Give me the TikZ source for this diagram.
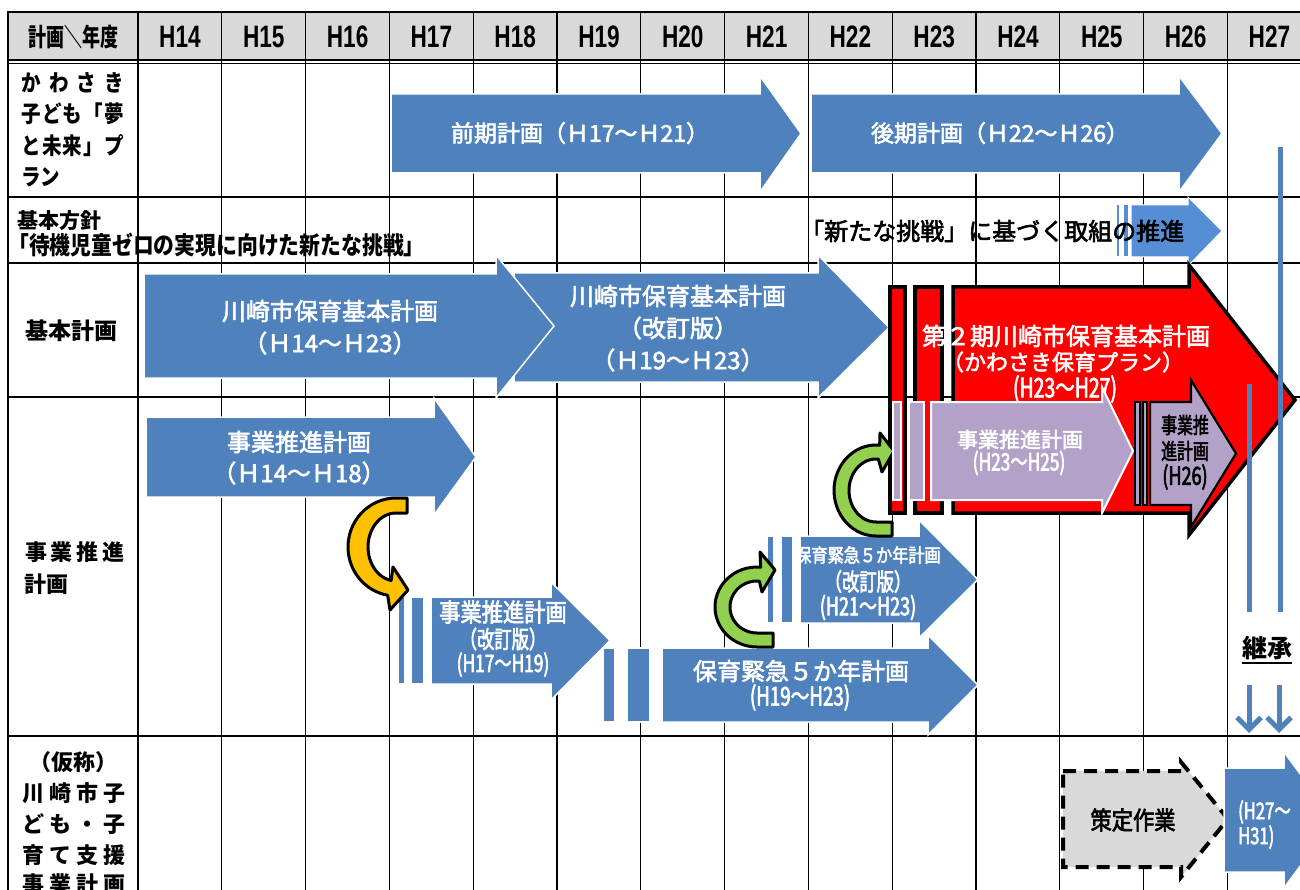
\documentclass[tikz,border=0pt]{standalone}
\usepackage{fontspec}
\usetikzlibrary{arrows.meta}
\setmainfont{Noto Sans CJK JP}
\newfontfamily\jpA{Noto Sans CJK JP}[UprightFeatures={FakeBold=2.5}]
\newfontfamily\jpB{Noto Sans CJK JP}[FakeStretch=0.85,UprightFeatures={FakeBold=2.5}]
\newfontfamily\jpC{Noto Sans CJK JP}[FakeStretch=0.72,UprightFeatures={FakeBold=2.5}]
\newfontfamily\hdr{Liberation Sans}[FakeStretch=0.73]
\newcommand{\fsz}[1]{\fontsize{#1pt}{#1pt}\selectfont}
\definecolor{blueA}{HTML}{4F81BD}
\definecolor{blueL}{HTML}{558ED5}
\definecolor{purp}{HTML}{B3A2C7}
\definecolor{grA}{HTML}{92D050}
\definecolor{orA}{HTML}{FFC000}
\definecolor{grayH}{HTML}{D9D9D9}
% [style]{x0}{ytop}{ybot}{xhead}{yheadtop}{yheadbot}{xtip}
\newcommand{\blk}[8][]{\path[#1] (#2,#3) -- (#5,#3) -- (#5,#6) -- (#8,{(#3+#4)/2}) -- (#5,#7) -- (#5,#4) -- (#2,#4) -- cycle;}
% [style]{x1}{x2}{ytop}{ybot}
\newcommand{\stripbox}[5][]{\path[#1] (#2,#4) rectangle (#3,#5);}
\begin{document}
\begin{tikzpicture}[x=1pt,y=-1pt,
  gridv/.style={line width=1.3pt,black},
  gridh/.style={line width=2pt,black},
  blu/.style={fill=blueA,draw=white,line width=1.5pt,line join=miter},
  bluL/.style={fill=blueL,draw=white,line width=1pt,line join=miter},
  redA/.style={fill=red,draw=black,line width=3.5pt,line join=miter},
  pur/.style={fill=purp,draw=white,line width=2pt,line join=miter},
  pur2/.style={fill=purp,draw=black,line width=2.2pt,line join=miter},
  dsh/.style={fill=grayH,draw=black,line width=4pt,dash pattern=on 13pt off 8pt,line join=miter},
  curv/.style={draw=black,line width=3pt,line join=round},
  kline/.style={draw=blueA,line width=5pt},
  wt/.style={text=white,inner sep=0pt},
  bt/.style={text=black,inner sep=0pt},
  hd/.style={text=black,inner sep=0pt},
  lbl/.style={text=black,inner sep=0pt,anchor=west}]
\useasboundingbox (0,0) rectangle (1300,890);
\fill[white] (0,0) rectangle (1300,890);
% header background
\fill[grayH] (8,12) rectangle (1300,60);
% grid
\foreach \k in {0,...,13} \draw[gridv] ({138+83.8*\k},12) -- ({138+83.8*\k},890);
\draw[gridh] (8,11) -- (8,890);
\draw[gridh] (8,12) -- (1300,12);
\draw[line width=1.2pt] (8,60) -- (1300,60);
\draw[line width=1.2pt] (8,63.5) -- (1300,63.5);
\foreach \y in {197,263,397,736} \draw[gridh] (8,\y) -- (1300,\y);
% header texts
\node[hd,font=\jpC\bfseries\fsz{25}] (hcorner) at (73,37) {計画＼年度};
\foreach \k/\lab in {0/H14,1/H15,2/H16,3/H17,4/H18,5/H19,6/H20,7/H21,8/H22,9/H23,10/H24,11/H25,12/H26,13/H27}
  \node[hd,font=\hdr\bfseries\fsz{31}] (h\k) at ({180+83.8*\k},37) {\lab};
% row 1 label
\node[lbl,font=\jpB\bfseries\fsz{23}] (l1a) at (21,82.5) {\makebox[103pt][s]{か\hfill わ\hfill さ\hfill き}};
\node[lbl,font=\jpB\bfseries\fsz{23}] (l1b) at (21,114) {\makebox[103pt][s]{子\hfill ど\hfill も\hfill 「\hfill 夢}};
\node[lbl,font=\jpB\bfseries\fsz{23}] (l1c) at (21,146) {\makebox[103pt][s]{と\hfill 未\hfill 来\hfill 」\hfill プ}};
\node[lbl,font=\jpB\bfseries\fsz{23}] (l1d) at (21,177.5) {ラン};
% row 1 arrows
\blk[blu]{391}{94}{173}{760}{76}{192}{801}
\node[wt,font=\jpA\fsz{23}] (a1t) at (580,133) {前期計画（Ｈ17～Ｈ21）};
\blk[blu]{811}{94}{173}{1179}{76}{192}{1222}
\node[wt,font=\jpA\fsz{23}] (a2t) at (1000,133) {後期計画（Ｈ22～Ｈ26）};
% row 2
\node[lbl,font=\jpA\bfseries\fsz{21}] (r2a) at (17,221) {基本方針};
\node[lbl,font=\jpB\bfseries\fsz{24.5}] (r2b) at (8,245) {「待機児童ゼロの実現に向けた新たな挑戦」};
\stripbox[bluL]{1116}{1119}{205}{257}
\stripbox[bluL]{1123}{1128}{205}{257}
\blk[bluL]{1131}{205}{257}{1188}{197}{266}{1222}
\node[lbl,font=\jpA\fsz{24}] (r2c) at (800,231) {「新たな挑戦」に基づく取組の推進};
% row 3
\node[lbl,font=\jpA\bfseries\fsz{23}] (r3l) at (25,331) {基本計画};
\blk[blu]{514}{273}{382}{818}{255}{398}{889}
\blk[blu]{144}{274}{378}{496}{255}{398}{554}
\node[wt,font=\jpA\fsz{24}] (b1a) at (330,311) {川崎市保育基本計画};
\node[wt,font=\jpA\fsz{24}] (b1b) at (330,343) {（Ｈ14～Ｈ23）};
\node[wt,font=\jpA\fsz{24}] (b2a) at (678,296) {川崎市保育基本計画};
\node[wt,font=\jpA\fsz{24}] (b2b) at (678,328) {（改訂版）};
\node[wt,font=\jpA\fsz{24}] (b2c) at (678,360) {（Ｈ19～Ｈ23）};
% red plan
\stripbox[redA]{890}{905}{287}{513}
\stripbox[redA]{915}{942}{287}{513}
\blk[redA]{953}{287}{513}{1189}{265}{535}{1295}
\node[wt,font=\jpA\fsz{24}] (rd1) at (1066,336) {第２期川崎市保育基本計画};
\node[wt,font=\jpA\fsz{22}] (rd2) at (1063,362) {（かわさき保育プラン）};
\node[wt,font=\jpC\fsz{27}] (rd3) at (1065,389) {(H23～H27)};
% row 4 label
\node[lbl,font=\jpA\bfseries\fsz{22}] (r4a) at (25,552) {\makebox[99pt][s]{事\hfill 業\hfill 推\hfill 進}};
\node[lbl,font=\jpA\bfseries\fsz{22}] (r4b) at (24,584) {計画};
% row 4 arrows
\blk[blu]{146}{417}{497}{434}{398}{515}{476}
\node[wt,font=\jpA\fsz{24}] (c1a) at (299,442) {事業推進計画};
\node[wt,font=\jpA\fsz{24}] (c1b) at (299,473) {（Ｈ14～Ｈ18）};
\stripbox[blu]{398}{405}{597}{684}
\stripbox[blu]{411}{424}{597}{684}
\blk[blu]{431}{597}{684}{551}{582}{700}{610}
\node[wt,font=\jpB\fsz{25}] (c2a) at (503,612) {事業推進計画};
\node[wt,font=\jpC\fsz{24}] (c2b) at (503,639) {（改訂版）};
\node[wt,font=\jpC\fsz{24}] (c2c) at (503,664.5) {(H17～H19)};
\stripbox[blu]{603}{615}{648}{722}
\stripbox[blu]{627}{650}{648}{722}
\blk[blu]{662}{648}{722}{928}{635}{735}{978}
\node[wt,font=\jpA\fsz{24}] (c3a) at (801,671) {保育緊急５か年計画};
\node[wt,font=\jpC\fsz{26}] (c3b) at (800,697.5) {(H19～H23)};
\stripbox[blu]{767}{774}{536}{623}
\stripbox[blu]{781}{793}{536}{623}
\blk[blu]{800}{536}{623}{919}{520}{638}{978}
\node[wt,font=\jpB\fsz{19}] (c4a) at (868,555) {保育緊急５か年計画};
\node[wt,font=\jpC\fsz{24}] (c4b) at (868,581.5) {（改訂版）};
\node[wt,font=\jpC\fsz{25}] (c4c) at (868,607.5) {(H21～H23)};
% curved arrows
\path[curv,fill=orA] (407,498) -- (396,498)
  -- plot[domain=270:100,samples=30,variable=\t] ({396+48*cos(\t)},{547+49*sin(\t)})
  -- (390,610) -- (408,590) -- (393,567)
  -- plot[domain=100:270,samples=30,variable=\t] ({396+28*cos(\t)},{547+34*sin(\t)})
  -- (407,513) -- cycle;
\path[curv,fill=grA] (773,633)
  -- plot[domain=90:275,samples=30,variable=\t] ({757+27*cos(\t)},{607+26*sin(\t)})
  -- (762,592) -- (775,570) -- (760,552)
  -- plot[domain=275:90,samples=30,variable=\t] ({757+42*cos(\t)},{607+40*sin(\t)})
  -- (773,647) -- cycle;
\path[curv,fill=grA] (892,522)
  -- plot[domain=90:275,samples=30,variable=\t] ({876+27*cos(\t)},{490.5+31.5*sin(\t)})
  -- (882,472) -- (894,451) -- (880,433)
  -- plot[domain=275:90,samples=30,variable=\t] ({876+42*cos(\t)},{490.5+45.5*sin(\t)})
  -- (892,536) -- cycle;
% purple plans
\stripbox[pur]{893}{901}{402}{500}
\stripbox[pur]{909}{924}{402}{500}
\blk[pur]{931}{402}{500}{1102}{387}{513}{1133}
\node[wt,font=\jpA\fsz{21}] (p1a) at (1020,439.5) {事業推進計画};
\node[wt,font=\jpC\fsz{24}] (p1b) at (1019,463) {(H23～H25)};
\stripbox[pur2]{1135}{1140}{402}{505}
\stripbox[pur2]{1143}{1147}{402}{505}
\blk[pur2]{1150}{402}{505}{1191}{380}{527}{1236}
\node[bt,font=\jpC\fsz{22}] (p2a) at (1185,425) {事業推};
\node[bt,font=\jpC\fsz{22}] (p2b) at (1185,451) {進計画};
\node[bt,font=\jpC\fsz{25}] (p2c) at (1185,477) {(H26)};
% succession lines
\coordinate (k1a) at (1249,384);
\coordinate (k1b) at (1249,612);
\coordinate (k2a) at (1280,147);
\coordinate (k2b) at (1280,612);
\draw[kline] (k1a) -- (k1b);
\draw[kline] (k2a) -- (k2b);
\node[bt,font=\jpA\bfseries\fsz{25}] (keis) at (1267,648) {継承};
\draw[line width=1.8pt] (keis.south west) ++(0,3) coordinate (u1) -- (keis.south east |- u1);
\coordinate (d1a) at (1249,685);
\coordinate (d1b) at (1249,733);
\coordinate (d2a) at (1279,685);
\coordinate (d2b) at (1279,733);
\draw[kline,-{Straight Barb[length=12pt,width=24pt]}] (d1a) -- (d1b);
\draw[kline,-{Straight Barb[length=12pt,width=24pt]}] (d2a) -- (d2b);
% row 5
\node[bt,font=\jpA\bfseries\fsz{22}] (r5a) at (73,762) {（仮称）};
\node[lbl,font=\jpA\bfseries\fsz{22}] (r5b) at (22,793.5) {\makebox[103pt][s]{川\hfill 崎\hfill 市\hfill 子}};
\node[lbl,font=\jpA\bfseries\fsz{22}] (r5c) at (22,824) {\makebox[103pt][s]{ど\hfill も\hfill ・\hfill 子}};
\node[lbl,font=\jpA\bfseries\fsz{22}] (r5d) at (22,855) {\makebox[103pt][s]{育\hfill て\hfill 支\hfill 援}};
\node[lbl,font=\jpA\bfseries\fsz{22}] (r5e) at (22,884) {\makebox[103pt][s]{事\hfill 業\hfill 計\hfill 画}};
\blk[dsh]{1063}{771}{867}{1181}{762}{877}{1228}
\node[bt,font=\jpB\fsz{25}] (r5t) at (1133,820) {策定作業};
\blk[blu]{1224}{768}{872}{1284}{752}{888}{1334}
\node[lbl,text=white,font=\jpC\fsz{23}] (r5h1) at (1238,812) {(H27～};
\node[lbl,text=white,font=\jpC\fsz{23}] (r5h2) at (1238,837) {H31)};
\end{tikzpicture}
\end{document}
